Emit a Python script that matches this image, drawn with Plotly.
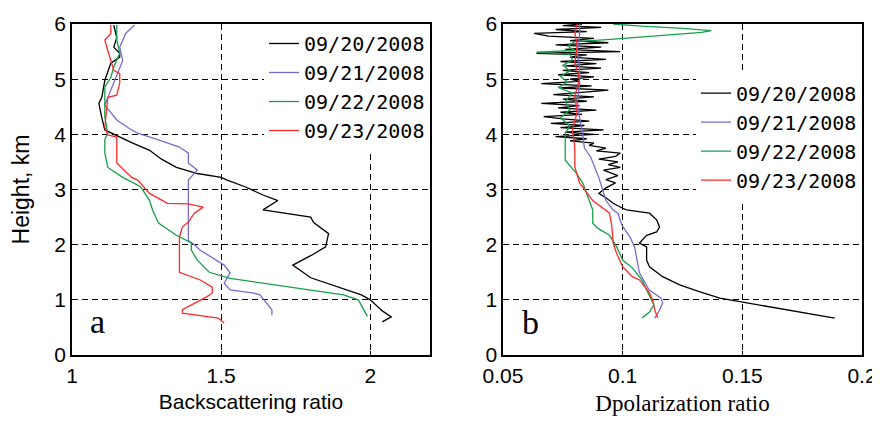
import plotly.graph_objects as go
from plotly.subplots import make_subplots

dates = ["09/20/2008", "09/21/2008", "09/22/2008", "09/23/2008"]
colors = ["black", "#7b6bd0", "#15a04a", "#ff2a2a"]

# Backscattering ratio (panel a): heights (km) and values
bsr_h_20 = [0.60, 0.69, 0.80, 1.00, 1.09, 1.25, 1.40, 1.63, 1.80, 1.96, 2.20, 2.40, 2.50, 2.63, 2.80, 2.90,
            3.05, 3.17, 3.22, 3.29, 3.40, 3.55, 3.71, 3.85, 4.02, 4.08, 4.30, 4.56, 4.67, 4.98, 5.29, 5.40,
            5.47, 5.58, 5.75, 5.98]
bsr_20 = [2.04, 2.07, 2.04, 2.00, 1.97, 1.88, 1.80, 1.74, 1.80, 1.85, 1.86, 1.81, 1.80, 1.64, 1.69, 1.64,
          1.58, 1.52, 1.50, 1.42, 1.35, 1.30, 1.26, 1.20, 1.13, 1.11, 1.10, 1.09, 1.10, 1.11, 1.13, 1.16,
          1.16, 1.14, 1.15, 1.14]

bsr_h_21 = [0.72, 0.82, 1.09, 1.12, 1.18, 1.30, 1.49, 1.63, 1.90, 2.00, 2.08, 2.45, 2.63, 2.90, 3.17, 3.35,
            3.48, 3.66, 3.77, 3.90, 4.02, 4.08, 4.26, 4.53, 4.67, 4.93, 5.22, 5.34, 5.58, 5.83, 5.98]
bsr_21 = [1.67, 1.67, 1.63, 1.61, 1.53, 1.51, 1.53, 1.51, 1.43, 1.41, 1.39, 1.39, 1.39, 1.39, 1.39, 1.42,
          1.39, 1.39, 1.36, 1.29, 1.22, 1.20, 1.15, 1.11, 1.12, 1.14, 1.16, 1.17, 1.16, 1.18, 1.21]

bsr_h_22 = [0.70, 1.00, 1.09, 1.23, 1.39, 1.50, 1.72, 1.90, 2.03, 2.17, 2.39, 2.63, 2.80, 3.05, 3.22, 3.40,
            3.66, 3.90, 4.02, 4.31, 4.86, 5.03, 5.22, 5.47, 5.71, 5.98]
bsr_22 = [1.99, 1.96, 1.91, 1.73, 1.53, 1.46, 1.42, 1.40, 1.40, 1.35, 1.29, 1.27, 1.26, 1.23, 1.17, 1.12,
          1.11, 1.11, 1.12, 1.11, 1.11, 1.13, 1.14, 1.16, 1.15, 1.15]

bsr_h_23 = [0.58, 0.67, 0.76, 0.82, 1.05, 1.12, 1.23, 1.36, 1.50, 2.14, 2.32, 2.41, 2.57, 2.68, 2.74, 2.75,
            2.93, 3.17, 3.22, 3.48, 3.95, 3.99, 4.13, 4.67, 4.71, 4.93, 5.10, 5.16, 5.52, 5.71, 5.83, 5.98]
bsr_23 = [1.51, 1.49, 1.37, 1.37, 1.45, 1.47, 1.47, 1.43, 1.36, 1.36, 1.37, 1.39, 1.41, 1.44, 1.39, 1.32,
          1.26, 1.22, 1.20, 1.15, 1.15, 1.12, 1.11, 1.12, 1.15, 1.16, 1.16, 1.14, 1.12, 1.11, 1.13, 1.13]

# Depolarization ratio (panel b)
dep_h_20 = [0.67, 0.96, 1.03, 1.15, 1.27, 1.42, 1.60, 1.72, 1.96, 2.03, 2.17, 2.23, 2.32, 2.45, 2.57, 2.63,
            2.66, 2.75, 2.85, 2.93, 3.03, 3.12, 3.18, 3.25, 3.30, 3.35, 3.40, 3.45, 3.50, 3.55, 3.60, 3.66,
            3.70, 3.75, 3.80, 3.84, 3.88, 3.92, 3.96, 4.00, 4.04, 4.08, 4.12, 4.16, 4.20, 4.24, 4.28, 4.32,
            4.36, 4.40, 4.44, 4.48, 4.52, 4.56, 4.60, 4.64, 4.68, 4.72, 4.76, 4.80, 4.84, 4.88, 4.92, 4.96,
            5.00, 5.04, 5.08, 5.12, 5.16, 5.20, 5.24, 5.28, 5.32, 5.36, 5.40, 5.44, 5.47, 5.50, 5.54, 5.58,
            5.62, 5.66, 5.70, 5.74, 5.78, 5.83, 5.86, 5.90, 5.94, 5.97, 6.00]
dep_20 = [0.1886, 0.149, 0.1406, 0.132, 0.1238, 0.1167, 0.1112, 0.110, 0.110, 0.107, 0.110, 0.1142, 0.1154,
          0.1142, 0.1112, 0.1016, 0.100, 0.096, 0.093, 0.090, 0.093, 0.097, 0.093, 0.098, 0.095, 0.092, 0.099,
          0.094, 0.098, 0.090, 0.097, 0.099, 0.089, 0.093, 0.086, 0.088, 0.078, 0.085, 0.072, 0.088, 0.076,
          0.092, 0.074, 0.084, 0.070, 0.086, 0.075, 0.067, 0.083, 0.074, 0.089, 0.073, 0.082, 0.066, 0.085,
          0.075, 0.088, 0.071, 0.083, 0.094, 0.074, 0.087, 0.066, 0.082, 0.078, 0.088, 0.073, 0.086, 0.075,
          0.091, 0.076, 0.089, 0.074, 0.093, 0.078, 0.085, 0.064, 0.099, 0.076, 0.091, 0.072, 0.094, 0.078,
          0.088, 0.069, 0.063, 0.085, 0.072, 0.091, 0.075, 0.083]

dep_h_21 = [0.67, 0.78, 0.94, 1.03, 1.18, 1.49, 1.72, 1.96, 2.14, 2.36, 2.57, 2.63, 2.80, 3.22, 3.59, 3.75,
            4.02, 4.30, 4.60, 4.90, 5.20, 5.50, 5.80, 6.00]
dep_21 = [0.1134, 0.115, 0.1167, 0.116, 0.111, 0.107, 0.106, 0.105, 0.103, 0.0996, 0.098, 0.096, 0.093,
          0.090, 0.0866, 0.084, 0.0833, 0.082, 0.081, 0.082, 0.082, 0.081, 0.082, 0.082]

dep_h_22 = [0.67, 0.78, 0.91, 1.00, 1.36, 1.58, 1.72, 1.96, 2.17, 2.30, 2.39, 2.63, 3.12, 3.30, 3.53, 3.77,
            4.02, 4.15, 4.30, 4.45, 4.60, 4.75, 4.85, 4.95, 5.05, 5.15, 5.25, 5.35, 5.45, 5.49, 5.52, 5.60,
            5.68, 5.72, 5.76, 5.80, 5.85, 5.88, 5.92, 5.96, 6.00]
dep_22 = [0.108, 0.1112, 0.113, 0.112, 0.108, 0.104, 0.100, 0.0975, 0.0945, 0.0895, 0.0875, 0.0875, 0.0833,
          0.0805, 0.076, 0.076, 0.076, 0.078, 0.074, 0.078, 0.076, 0.079, 0.073, 0.077, 0.074, 0.078, 0.075,
          0.079, 0.078, 0.064, 0.080, 0.077, 0.080, 0.095, 0.107, 0.118, 0.133, 0.137, 0.125, 0.108, 0.096]

dep_h_23 = [0.67, 0.82, 1.00, 1.14, 1.36, 1.42, 1.60, 1.84, 2.03, 2.32, 2.57, 2.80, 3.12, 3.41, 3.77, 4.08,
            4.40, 4.70, 5.00, 5.30, 5.60, 5.85, 6.00]
dep_23 = [0.1146, 0.1134, 0.1125, 0.111, 0.107, 0.104, 0.100, 0.0975, 0.096, 0.0955, 0.0945, 0.0875, 0.082,
          0.080, 0.080, 0.079, 0.081, 0.080, 0.082, 0.080, 0.081, 0.080, 0.081]

bsr_h = [bsr_h_20, bsr_h_21, bsr_h_22, bsr_h_23]
bsr = [bsr_20, bsr_21, bsr_22, bsr_23]
dep_h = [dep_h_20, dep_h_21, dep_h_22, dep_h_23]
dep = [dep_20, dep_21, dep_22, dep_23]

sans = "Liberation Sans, Arial, sans-serif"
serif = "Liberation Serif, Times New Roman, serif"
mono = "DejaVu Sans Mono, Liberation Mono, monospace"

fig = make_subplots(rows=1, cols=2)

for i in range(4):
    fig.add_trace(go.Scatter(x=bsr[i], y=bsr_h[i], mode="lines", name=dates[i],
                             line=dict(color=colors[i], width=1.3), legend="legend"), row=1, col=1)
for i in range(4):
    fig.add_trace(go.Scatter(x=dep[i], y=dep_h[i], mode="lines", name=dates[i],
                             line=dict(color=colors[i], width=1.3), legend="legend2"), row=1, col=2)

axis_common = dict(showline=True, linecolor="black", linewidth=1.5, mirror=True,
                   showgrid=True, gridcolor="black", gridwidth=1, griddash="6px,4px",
                   ticks="inside", ticklen=4, tickcolor="black", zeroline=False, automargin=False,
                   tickfont=dict(family=sans, size=21, color="black"))

fig.update_xaxes(range=[1, 2.2], tickvals=[1, 1.5, 2], ticktext=["1", "1.5", "2"],
                 domain=[0, 0.4532], ticklabelstandoff=1,
                 title=dict(text="Backscattering ratio", standoff=8,
                            font=dict(family=sans, size=21, color="black")), **axis_common, row=1, col=1)
fig.update_xaxes(range=[0.05, 0.2], tickvals=[0.05, 0.1, 0.15, 0.2], ticktext=["0.05", "0.1", "0.15", "0.2"],
                 domain=[0.5456, 1], ticklabelstandoff=1,
                 title=dict(text="Dpolarization ratio", standoff=9,
                            font=dict(family=serif, size=23, color="black")), **axis_common, row=1, col=2)
fig.update_yaxes(range=[0, 6], dtick=1, domain=[0, 1],
                 title=dict(text="Height, km", standoff=18, font=dict(family=sans, size=23, color="black")),
                 **axis_common, row=1, col=1)
fig.update_yaxes(range=[0, 6], dtick=1, domain=[0, 1], **axis_common, row=1, col=2)

fig.add_annotation(x=0.02, y=0.039, xref="paper", yref="paper", text="a", showarrow=False,
                   font=dict(family=serif, size=34, color="black"))
fig.add_annotation(x=0.58, y=0.036, xref="paper", yref="paper", text="b", showarrow=False,
                   font=dict(family=serif, size=34, color="black"))

legend_common = dict(bgcolor="white", borderwidth=0, font=dict(family=mono, size=20, color="black"),
                     tracegroupgap=0, itemwidth=30, xanchor="right", yanchor="top")
fig.update_layout(
    width=872, height=413,
    margin=dict(l=64, r=18, t=16, b=66),
    plot_bgcolor="white", paper_bgcolor="white",
    showlegend=True,
    legend=dict(x=0.4532, y=1, **legend_common),
    legend2=dict(x=1, y=0.85, **legend_common),
)

fig.write_html("out.html")
